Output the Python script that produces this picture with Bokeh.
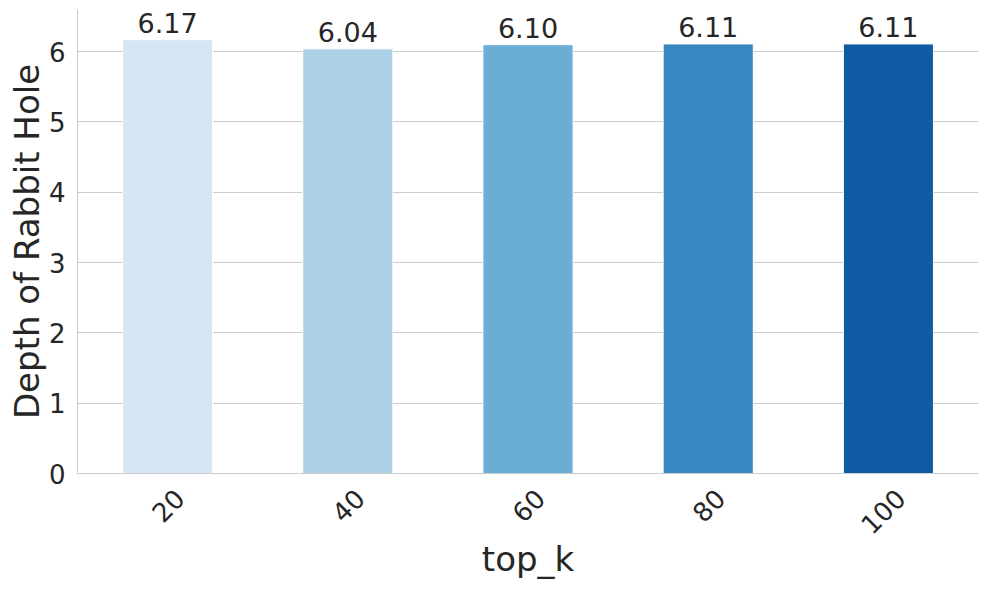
import math
from bokeh.plotting import figure
from bokeh.models import (ColumnDataSource, FixedTicker, LabelSet, LinearAxis, Range1d)
from bokeh.core.properties import value
from bokeh.embed import file_html
from bokeh.resources import INLINE

categories = ["20", "40", "60", "80", "100"]
depths = [6.17, 6.04, 6.10, 6.11, 6.11]
labels = ["6.17", "6.04", "6.10", "6.11", "6.11"]
colors = ["#d6e6f4", "#abd0e6", "#6aaed6", "#3787c0", "#105ba4"]
y_ticks = [0, 1, 2, 3, 4, 5, 6]

FONT = "DejaVu Sans"
TXT = "#262626"
GRID = "#cccccc"

n = len(categories)
idx = list(range(n))
src = ColumnDataSource(dict(idx=idx, cat=categories, depth=depths, label=labels, color=colors))

# label axis range: same span as the bar range, shifted so the rotated
# labels (right-anchored in Bokeh) sit centred under the bars like matplotlib's
shift = 0.066
p = figure(
    x_range=Range1d(-0.5, n - 0.5), y_range=(0, 6.6),
    frame_width=901, frame_height=464,
    output_backend="svg", toolbar_location=None,
    min_border_left=77, min_border_right=11, min_border_top=9, min_border_bottom=117,
)
p.extra_x_ranges = {"ticks": Range1d(-0.5 - shift, n - 0.5 - shift)}
p.outline_line_color = None
p.background_fill_color = "white"

p.vbar(x="idx", top="depth", width=0.5, source=src, fill_color="color",
       line_color="white", line_width=1)

p.add_layout(LabelSet(x="idx", y="depth", text="label", source=src,
                      text_align="center", text_baseline="bottom", y_offset=7,
                      text_font=value(FONT), text_font_size=value("27px"),
                      text_color=TXT))

# y axis
p.yaxis.ticker = FixedTicker(ticks=y_ticks)
p.yaxis.axis_label = "Depth of Rabbit Hole"

# x axis: hide default one, use label axis
p.xaxis.visible = False
xax = LinearAxis(x_range_name="ticks",
                 ticker=FixedTicker(ticks=idx),
                 major_label_overrides={i: c for i, c in zip(idx, categories)},
                 axis_label="top_k")
p.add_layout(xax, "below")

for ax in (xax, p.yaxis[0]):
    ax.axis_label_text_font = FONT
    ax.axis_label_text_font_size = "34px"
    ax.axis_label_text_font_style = "normal"
    ax.axis_label_text_color = TXT
    ax.major_label_text_font = FONT
    ax.major_label_text_font_size = "26px"
    ax.major_label_text_color = TXT
    ax.major_tick_line_color = None
    ax.minor_tick_line_color = None
    ax.axis_line_color = GRID
    ax.axis_line_width = 1

xax.major_label_orientation = math.pi / 4
xax.major_label_standoff = 14
xax.axis_label_standoff = -7
p.yaxis.major_label_standoff = 6
p.yaxis.axis_label_standoff = -1

p.xgrid.grid_line_color = None
p.ygrid.grid_line_color = GRID
p.ygrid.grid_line_width = 1

open("out.html", "w").write(file_html(p, INLINE))
